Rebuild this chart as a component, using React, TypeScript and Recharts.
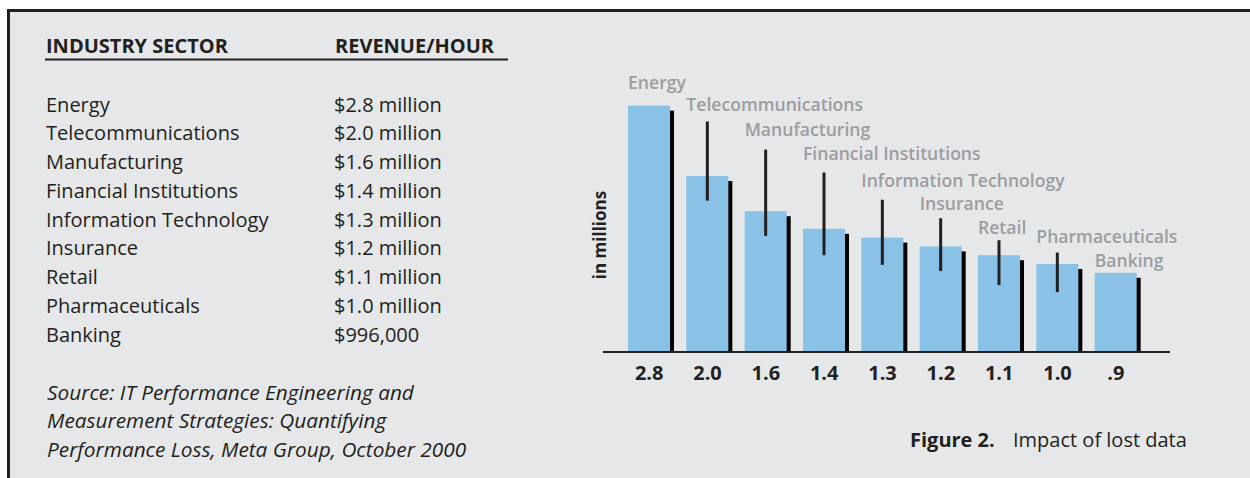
import { Bar, BarChart, ErrorBar, XAxis, YAxis } from "recharts";

const sectors = [
  "Energy",
  "Telecommunications",
  "Manufacturing",
  "Financial Institutions",
  "Information Technology",
  "Insurance",
  "Retail",
  "Pharmaceuticals",
  "Banking",
];
const revenueText = [
  "$2.8 million",
  "$2.0 million",
  "$1.6 million",
  "$1.4 million",
  "$1.3 million",
  "$1.2 million",
  "$1.1 million",
  "$1.0 million",
  "$996,000",
];
const lossValues = [2.8, 2.0, 1.6, 1.4, 1.3, 1.2, 1.1, 1.0, 0.9];
const tickLabels = ["2.8", "2.0", "1.6", "1.4", "1.3", "1.2", "1.1", "1.0", ".9"];
// leader lines from each label down into its bar (below / above the bar top, in millions)
const leaderBelow = [0, 0.28, 0.28, 0.3, 0.31, 0.28, 0.34, 0.32, 0];
const leaderAbove = [0, 0.62, 0.7, 0.64, 0.43, 0.32, 0.17, 0.13, 0];
// height of each sector's name on the value axis, in millions
const labelLevel = [3.07, 2.82, 2.53, 2.26, 1.96, 1.69, 1.42, 1.32, 1.05];
const sourceLines = [
  "Source: IT Performance Engineering and",
  "Measurement Strategies: Quantifying",
  "Performance Loss, Meta Group, October 2000",
];

const data = sectors.map((sector, i) => ({
  sector,
  tick: tickLabels[i],
  value: lossValues[i],
  leader: [leaderBelow[i], leaderAbove[i]],
  labelAt: labelLevel[i],
}));

const INK = "#231f20";
const BLUE = "#89c2e6";
const GREY = "#9c9da0";
const BG = "#e6e7e8";
const FONT = "'Open Sans', 'Noto Sans', sans-serif";

function ShadowBar(props: any) {
  const { x, y, width, height, payload } = props;
  const perUnit = height / payload.value;
  const base = y + height;
  return (
    <g>
      <rect x={x + 4} y={y + 5} width={width} height={height - 5} fill="#000" />
      <rect x={x} y={y} width={width} height={height} fill={BLUE} />
      <text
        x={x}
        y={base - payload.labelAt * perUnit}
        dominantBaseline="central"
        fontFamily={FONT}
        fontSize={17.6}
        fontWeight={600}
        fill={GREY}
      >
        {payload.sector}
      </text>
    </g>
  );
}

export default function App() {
  return (
    <div style={{ position: "absolute", left: 0, top: 0, width: 1250, height: 478, background: "#fff" }}>
      <svg width={1250} height={478} style={{ position: "absolute", left: 0, top: 0 }}>
        <rect x={7} y={9} width={1243} height={469} fill={INK} />
        <rect x={10} y={12} width={1240} height={466} fill={BG} />
        <g fontFamily={FONT} fill={INK} fontSize={20}>
          <text x={46} y={53.3} fontWeight={700}>INDUSTRY SECTOR</text>
          <text x={335} y={53.3} fontWeight={700}>REVENUE/HOUR</text>
          <rect x={45} y={58.5} width={463} height={2} fill={INK} />
          {sectors.map((s, i) => (
            <text key={s} x={46} y={111.7 + i * 28.75}>{s}</text>
          ))}
          {revenueText.map((r, i) => (
            <text key={i} x={334} y={111.7 + i * 28.75}>{r}</text>
          ))}
          {sourceLines.map((l, i) => (
            <text key={l} x={47} y={400 + i * 28.35} fontStyle="italic" fontSize={20.8}>{l}</text>
          ))}
          <text x={910} y={446.7} fontWeight={700}>Figure 2.</text>
          <text x={1013} y={446.7}>Impact of lost data</text>
          <text
            x={599}
            y={235}
            fontSize={17}
            fontWeight={700}
            textAnchor="middle"
            dominantBaseline="central"
            transform="rotate(-90 599 235)"
          >
            in millions
          </text>
        </g>
      </svg>
      <div style={{ position: "absolute", left: 560, top: 0 }}>
        <BarChart
          width={690}
          height={478}
          data={data}
          margin={{ top: 88, right: 80, bottom: 86, left: 43 }}
        >
          <YAxis hide domain={[0, 3]} />
          <XAxis
            dataKey="tick"
            height={40}
            padding={{ left: 17, right: 25 }}
            axisLine={{ stroke: INK, strokeWidth: 2 }}
            tickLine={false}
            tickMargin={8}
            tick={{ fill: INK, fontSize: 20, fontWeight: 700, fontFamily: FONT }}
            interval={0}
          />
          <Bar dataKey="value" barSize={42} shape={ShadowBar} isAnimationActive={false}>
            <ErrorBar dataKey="leader" width={0} stroke={INK} strokeWidth={3} />
          </Bar>
        </BarChart>
      </div>
    </div>
  );
}
